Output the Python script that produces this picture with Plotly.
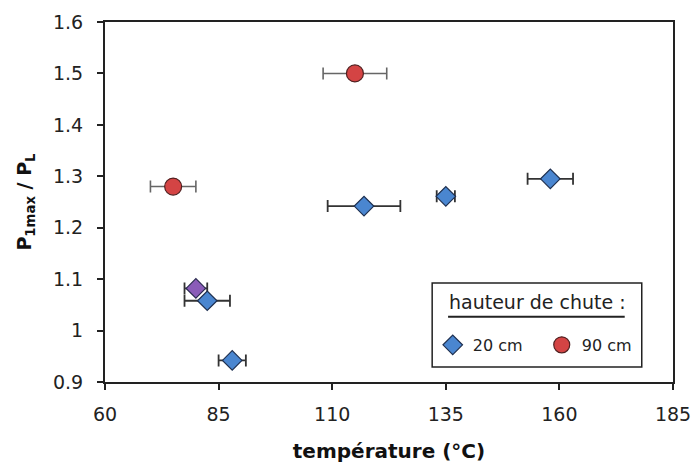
import plotly.graph_objects as go

# 20 cm drop height
t_20 = [117, 135, 158, 82.5, 88]
r_20 = [1.242, 1.261, 1.295, 1.058, 0.942]
e_20 = [8, 2, 5, 5, 3]

# 90 cm drop height
t_90 = [115, 75]
r_90 = [1.50, 1.28]
e_90 = [7, 5]

# odd point (purple)
t_p = [80]
r_p = [1.082]
e_p = [2.5]

x_ticks = [60, 85, 110, 135, 160, 185]
y_ticks = [0.9, 1.0, 1.1, 1.2, 1.3, 1.4, 1.5, 1.6]
y_labels = ['0.9', '1', '1.1', '1.2', '1.3', '1.4', '1.5', '1.6']

font = 'DejaVu Sans, sans-serif'
ink = '#222222'

fig = go.Figure()
fig.add_trace(go.Scatter(
    x=t_p, y=r_p, mode='markers', showlegend=False,
    error_x=dict(type='data', array=e_p, color='#333333', thickness=1.8, width=6),
    marker=dict(symbol='diamond', size=15, color='#8a5cb8', line=dict(color='#2a2a50', width=1.2))))
fig.add_trace(go.Scatter(
    x=t_20, y=r_20, mode='markers', name='20 cm',
    error_x=dict(type='data', array=e_20, color='#333333', thickness=1.8, width=6),
    marker=dict(symbol='diamond', size=15, color='#4a86d0', line=dict(color='#1f3050', width=1.2))))
fig.add_trace(go.Scatter(
    x=t_90, y=r_90, mode='markers', name='90 cm',
    error_x=dict(type='data', array=e_90, color='#666666', thickness=1.6, width=6),
    marker=dict(symbol='circle', size=17, color='#d44444', line=dict(color='#502020', width=1.2))))

fig.update_layout(
    width=692, height=464,
    margin=dict(l=105, r=19, t=22, b=82),
    plot_bgcolor='white', paper_bgcolor='white',
    font=dict(family=font, size=19, color=ink),
    legend=dict(
        orientation='h', x=0.577, y=0.103, xanchor='left', yanchor='middle',
        bgcolor='rgba(0,0,0,0)', borderwidth=0,
        font=dict(size=16), itemwidth=30, entrywidth=64),
)
fig.update_xaxes(
    range=[60, 185], tickvals=x_ticks, showgrid=False, zeroline=False, automargin=False,
    showline=True, linecolor=ink, linewidth=2, mirror=True, ticklabeloverflow='allow',
    ticks='outside', ticklen=6, tickcolor=ink, tickwidth=1.5, ticklabelstandoff=8,
    title=dict(text='<b>température (°C)</b>', font=dict(size=20, color='#111111'), standoff=20))
fig.update_yaxes(
    range=[0.9, 1.6], tickvals=y_ticks, ticktext=y_labels, showgrid=False, zeroline=False,
    automargin=False, showline=True, linecolor=ink, linewidth=2, mirror=True,
    ticks='outside', ticklen=6, tickcolor=ink, tickwidth=1.5, ticklabelstandoff=10,
    title=dict(text='<b>P<sub>1max</sub> / P<sub>L</sub></b>', font=dict(size=19, color='#111111'), standoff=16))

# legend frame, title and its underline
fig.add_shape(type='rect', xref='paper', yref='paper', x0=0.576, x1=0.945, y0=0.042, y1=0.275,
              line=dict(color=ink, width=1.5), fillcolor='rgba(0,0,0,0)')
fig.add_shape(type='line', xref='paper', yref='paper', x0=0.604, x1=0.915, y0=0.181, y1=0.181,
              line=dict(color=ink, width=2))
fig.add_annotation(text='hauteur de chute :', xref='paper', yref='paper', x=0.761, y=0.222,
                   showarrow=False, font=dict(size=19, color=ink), xanchor='center', yanchor='middle')

# drop the default 8px body margin so the 692x464 figure fills the window
fig.write_html('out.html', config={'displayModeBar': False},
               post_script="document.body.style.margin='0px';")
